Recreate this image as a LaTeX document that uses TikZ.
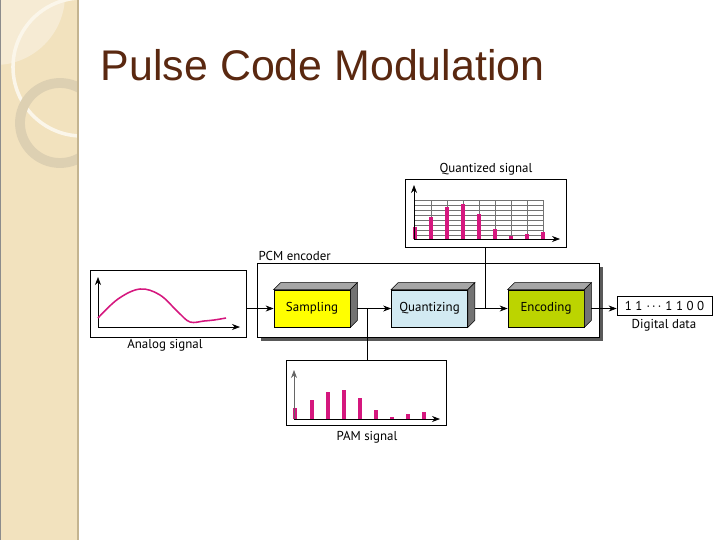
\documentclass[tikz,border=0pt]{standalone}
\usepackage{fontspec}
\setmainfont{Liberation Sans}
\newfontfamily\lbl{PT Sans}
\usetikzlibrary{arrows.meta}
\definecolor{strip}{HTML}{F2E2BE}
\definecolor{stripLt}{HTML}{F6EBD4}
\definecolor{stripEdge}{HTML}{C4B490}
\definecolor{ringW}{HTML}{FBF6EA}
\definecolor{ringG}{HTML}{DDD0B2}
\definecolor{titlec}{HTML}{5A2810}
\definecolor{pulse}{HTML}{D5177E}
\definecolor{sampc}{HTML}{FFFF00}
\definecolor{quantc}{HTML}{D2EAF2}
\definecolor{encc}{HTML}{BCD400}
\tikzset{
  blk/.style={draw, line width=0.5pt, minimum width=1.9cm, minimum height=0.925cm,
    font=\lbl\fontsize{9.2}{10}\selectfont},
  sig/.style={draw, fill=white, line width=0.5pt},
  lbltxt/.style={font=\lbl\fontsize{9.2}{10}\selectfont},
  bar/.style={line width=2.4pt, pulse},
  ax/.style={->, line width=0.5pt},
}
\begin{document}
\begin{tikzpicture}[>={Stealth[length=2mm,width=1.5mm]}, x=0.025cm, y=-0.025cm]
\useasboundingbox (0,0) rectangle (720,540);
\fill[white] (0,0) rectangle (720,540);
% side strip
\begin{scope}
\clip (0,0) rectangle (78,540);
\fill[strip] (0,0) rectangle (78,540);
\fill[stripLt] (-5,-5) circle (1.75cm);
\draw[ringW, line width=2.5pt] (82,67) circle (1.725cm);
\draw[ringG, line width=7pt] (60,123) circle (1cm);
\end{scope}
\draw[stripEdge, line width=1pt] (78,0) -- (78,540);
\draw[black!45, line width=1pt] (0.5,0) -- (0.5,540);
\node[anchor=base west, text=titlec, font=\fontsize{30.5}{36}\selectfont] (title) at (96,80) {Pulse Code Modulation};

% encoder frame
\fill[black!65] (261,267) rectangle (603,341);
\draw[fill=white, line width=0.5pt] (257,263) rectangle (599,337);
\node[lbltxt, anchor=south west, inner sep=1pt] (pcmlbl) at (257,262) {PCM encoder};

\node[blk, fill=sampc] (samp) at (312,308.5) {Sampling};
\node[blk, fill=quantc] (quant) at (429.5,308.5) {Quantizing};
\node[blk, fill=encc] (enc) at (546,308.5) {Encoding};
\foreach \b in {samp,quant,enc}{
  \draw[fill=black!35, line width=0.4pt] (\b.north west) -- ([shift={(7,-7)}]\b.north west)
    -- ([shift={(7,-7)}]\b.north east) -- (\b.north east) -- cycle;
  \draw[fill=black!55, line width=0.4pt] (\b.north east) -- ([shift={(7,-7)}]\b.north east)
    -- ([shift={(7,-7)}]\b.south east) -- (\b.south east) -- cycle;
}

% signal boxes
\node[sig, minimum width=3.9cm, minimum height=1.675cm] (analog) at (168,303.5) {};
\node[lbltxt] (analoglbl) at (165,345) {Analog signal};
\node[sig, minimum width=4.025cm, minimum height=1.7cm] (qsig) at (485.5,213) {};
\node[lbltxt] (qsiglbl) at (486,169) {Quantized signal};
\node[sig, minimum width=4cm, minimum height=1.625cm] (pam) at (366,392.5) {};
\node[lbltxt] (pamlbl) at (367,437) {PAM signal};
\node[sig, minimum width=2.375cm, minimum height=0.45cm, lbltxt] (dig) at (664.5,306)
  {1\hspace{2.5pt}1\hspace{3pt}·\hspace{1.5pt}·\hspace{1.5pt}·\hspace{3pt}1\hspace{2.5pt}1\hspace{2.5pt}0\hspace{2.5pt}0};
\node[lbltxt] (diglbl) at (664,325) {Digital data};

% analog plot
\draw[ax] (98,327) -- (98,277);
\draw[ax] (98,327) -- (240,327);
\draw[pulse, line width=1.1pt] plot[smooth, tension=0.6] coordinates
  {(98,318) (118,299) (140,289) (160,295) (178,312) (190,322) (204,321) (214,320) (226,318)};

% quantized plot
\foreach \g in {200,205,...,235} \draw[black!55, line width=0.4pt] (414,\g) -- (543,\g);
\foreach \g in {431,447,...,543} \draw[black!55, line width=0.4pt] (\g,200) -- (\g,239);
\foreach \x/\t in {415/227,431/217,447/207,463/204,479/214,495/229,511/236,527/234,543/232}
  \draw[bar] (\x,239) -- (\x,\t);
\draw[ax] (414,239) -- (414,185);
\draw[ax] (414,239) -- (560,239);

% PAM plot
\foreach \x/\t in {295/408,312/400,328/392,344/390,360/398,376/410,392/417,408/414,424/412}
  \draw[bar] (\x,419) -- (\x,\t);
\draw[ax, black!60] (294,419) -- (294,370);
\draw[ax] (294,419) -- (440,419);

% connectors
\coordinate (j1) at (367,308.5);
\coordinate (j2) at (486,308.5);
\draw[->, line width=0.5pt] (samp.west -| analog.east) -- (samp.west);
\draw[->, line width=0.5pt, shorten <=1.75mm] (samp.east) -- (quant.west);
\draw[->, line width=0.5pt, shorten <=1.75mm] (quant.east) -- (enc.west);
\draw[->, line width=0.5pt, shorten <=1.75mm] (enc.east) -- (enc.east -| dig.west);
\draw[line width=0.5pt] (j1) -- (j1 |- pam.north);
\draw[line width=0.5pt] (qsig.south) -- (qsig.south |- j2);
\end{tikzpicture}
\end{document}
